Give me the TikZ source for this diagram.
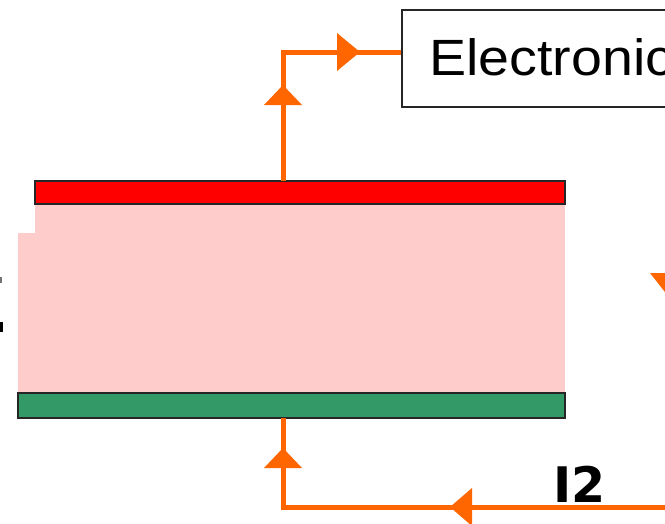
\documentclass[tikz,border=0pt]{standalone}
\usepackage{fontspec}
\setmainfont{Liberation Sans}
\newfontfamily\dejabold{DejaVu Sans}
\definecolor{orng}{HTML}{FF6600}
\definecolor{pinkf}{HTML}{FFCCCC}
\definecolor{greenf}{HTML}{339966}
\tikzset{
  wire/.style={draw=orng, line width=5pt},
  tip/.style={fill=orng},
  bar/.style={draw=black!85, line width=1.8pt, inner sep=0pt, outer sep=0pt, anchor=north west}
}
\begin{document}
\begin{tikzpicture}[x=1pt,y=-1pt]
\useasboundingbox (0,0) rectangle (665,523);
% pink body
\fill[pinkf] (18,204) rectangle (565,393);
\fill[white] (0,178) rectangle (35,233);
% electrodes
\node[bar, fill=red, minimum width=530pt, minimum height=23pt] (red) at (35,181) {};
\node[bar, fill=greenf, minimum width=547pt, minimum height=25pt] (green) at (18,393) {};
% electronics box
\node[draw=black!85, line width=2pt, inner sep=0pt, anchor=north west, minimum width=320pt, minimum height=97pt] (box) at (401,9) {};
\node[anchor=base west, inner sep=0pt] (etxt) at (429,75) {\scalebox{1.09}[1]{\fontsize{51}{55}\selectfont Electronic}};
% label
\node[anchor=base west, inner sep=0pt] (i2) at (553,502) {\dejabold\bfseries\fontsize{49}{52}\selectfont I2};
% left fragments
\fill[black!55] (0,277) rectangle (2,283);
\fill[black] (0,322) rectangle (3,332);
% connectors
\coordinate (t1) at (283,52);
\draw[wire] (red.north -| t1) -- (t1) -- (box.west |- t1);
\coordinate (b1) at (283,507);
\coordinate (bR) at (675,507);
\draw[wire] (bR) -- (b1) -- (green.south -| b1);
% arrowheads
\fill[tip] (283,85) -- (264,105) -- (302,105) -- cycle;
\fill[tip] (360,52) -- (337,33) -- (337,71) -- cycle;
\fill[tip] (283,448) -- (264,468) -- (302,468) -- cycle;
\fill[tip] (450,507) -- (472,488) -- (472,526) -- cycle;
\fill[tip] (650,273) -- (694,273) -- (672,301) -- cycle;
\end{tikzpicture}
\end{document}
